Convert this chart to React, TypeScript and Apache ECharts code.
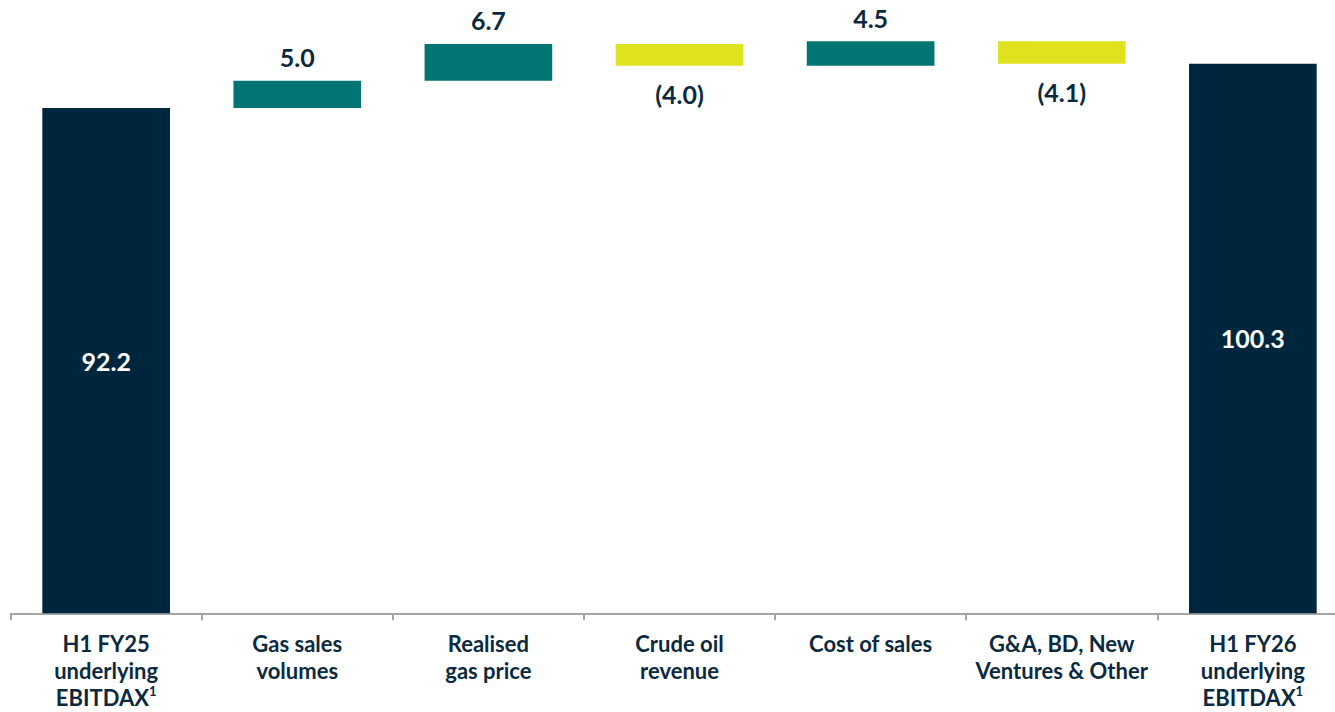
import React, { useEffect, useRef } from "react";
import * as echarts from "echarts";

const categories = [
  "H1 FY25\nunderlying\nEBITDAX{sup|1}",
  "Gas sales\nvolumes",
  "Realised\ngas price",
  "Crude oil\nrevenue",
  "Cost of sales",
  "G&A, BD, New\nVentures & Other",
  "H1 FY26\nunderlying\nEBITDAX{sup|1}",
];
const startValue = 92.2;
const deltas = [5.0, 6.7, -4.0, 4.5, -4.1];
const endValue = 100.3;

const NAVY = "#00263d";
const TEAL = "#017574";
const LIME = "#dfe21e";
const TEXT = "#0b2a40";
const AXIS = "#a6a6a6";
const FONT = "Lato";

export default function App() {
  const ref = useRef<HTMLDivElement>(null);

  useEffect(() => {
    document.body.style.margin = "0";
    document.body.style.overflow = "hidden";
    document.documentElement.style.overflow = "hidden";
    if (!ref.current) return;
    const chart = echarts.init(ref.current, null, { renderer: "svg" });

    const base: (number | string)[] = ["-"];
    const inc: (number | string)[] = ["-"];
    const dec: (number | string)[] = ["-"];
    let running = startValue;
    deltas.forEach((d) => {
      if (d >= 0) {
        base.push(running);
        inc.push(d);
        dec.push("-");
      } else {
        base.push(running + d);
        inc.push("-");
        dec.push(-d);
      }
      running += d;
    });
    base.push("-");
    inc.push("-");
    dec.push("-");
    const totals: (number | string)[] = [startValue, "-", "-", "-", "-", "-", endValue];

    const valueFont = {
      fontFamily: FONT,
      fontWeight: "bold" as const,
      fontSize: 25,
    };

    chart.setOption({
      animation: false,
      grid: {
        left: 10.6,
        right: 0.6,
        top: 10.5,
        bottom: 98.7,
        containLabel: false,
        outerBoundsMode: "none",
      },
      xAxis: {
        type: "category",
        data: categories,
        axisLine: { show: true, lineStyle: { color: AXIS, width: 2 } },
        axisTick: { show: true, length: 7, lineStyle: { color: AXIS, width: 2 } },
        axisLabel: {
          interval: 0,
          margin: 17,
          color: TEXT,
          fontFamily: FONT,
          fontWeight: "bold",
          fontSize: 22,
          lineHeight: 27,
          rich: {
            sup: {
              fontFamily: FONT,
              fontWeight: "bold",
              fontSize: 13,
              color: TEXT,
              lineHeight: 27,
              padding: [0, 0, 14, 0],
            },
          },
        },
      },
      yAxis: {
        type: "value",
        min: 0,
        max: 110,
        show: false,
        splitLine: { show: false },
      },
      series: [
        {
          type: "bar",
          stack: "w",
          data: base,
          barWidth: "66.8%",
          itemStyle: { color: "transparent" },
          silent: true,
        },
        {
          type: "bar",
          stack: "w",
          data: inc,
          barWidth: "66.8%",
          itemStyle: { color: TEAL },
          label: {
            show: true,
            position: "top",
            distance: 11,
            color: TEXT,
            ...valueFont,
            formatter: (p: any) => Number(p.value).toFixed(1),
          },
        },
        {
          type: "bar",
          stack: "w",
          data: dec,
          barWidth: "66.8%",
          itemStyle: { color: LIME },
          label: {
            show: true,
            position: "bottom",
            distance: 16,
            color: TEXT,
            ...valueFont,
            formatter: (p: any) => `(${Number(p.value).toFixed(1)})`,
          },
        },
        {
          type: "bar",
          stack: "w",
          data: totals,
          barWidth: "66.8%",
          itemStyle: { color: NAVY },
          label: {
            show: true,
            position: "inside",
            color: "#ffffff",
            ...valueFont,
            formatter: (p: any) => Number(p.value).toFixed(1),
          },
        },
      ],
    });

    return () => chart.dispose();
  }, []);

  return (
    <div
      style={{
        position: "fixed",
        left: 0,
        top: 0,
        width: 1335,
        height: 712,
        overflow: "hidden",
        background: "#ffffff",
      }}
    >
      <div ref={ref} style={{ width: 1349, height: 712 }} />
    </div>
  );
}
